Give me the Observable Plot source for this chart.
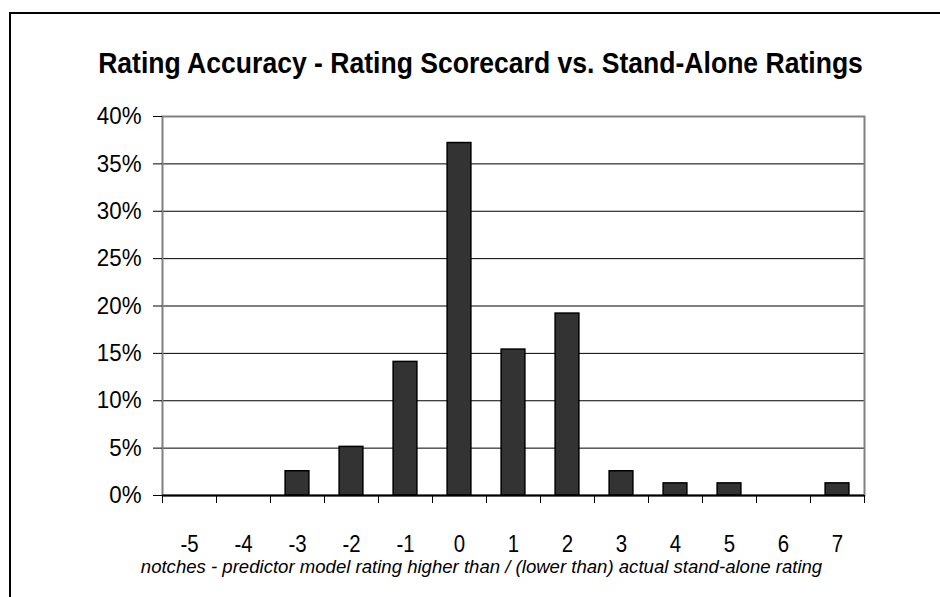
<!DOCTYPE html>
<html>
<head>
<meta charset="utf-8">
<script src="https://cdn.jsdelivr.net/npm/d3@7"></script>
<script src="https://cdn.jsdelivr.net/npm/@observablehq/plot@0.6"></script>
<style>
  html, body { margin: 0; padding: 0; background: #fff; overflow: hidden; width: 940px; height: 597px; }
  #frame { position: absolute; left: 9px; top: 12px; width: 1000px; height: 1000px; border: 2px solid #000; box-sizing: border-box; }
  #chart { position: absolute; left: 0; top: 0; }
</style>
</head>
<body>
<div id="frame"></div>
<div id="chart"></div>
<script>
const titleText = "Rating Accuracy - Rating Scorecard vs. Stand-Alone Ratings";
const captionText = "notches - predictor model rating higher than / (lower than) actual stand-alone rating";
const notches = [-5, -4, -3, -2, -1, 0, 1, 2, 3, 4, 5, 6, 7];
const shares = [0, 0, 2.56, 5.13, 14.1, 37.2, 15.4, 19.2, 2.56, 1.28, 1.28, 0, 1.28];
const yTicks = [0, 5, 10, 15, 20, 25, 30, 35, 40];

const data = notches.map((n, i) => ({notch: n, share: shares[i]}));
const boundaries = notches.map(n => n - 0.5).concat([notches[notches.length - 1] + 0.5]);
const halfBar = 0.22;
const font = "'Liberation Sans', Arial, sans-serif";

const chart = Plot.plot({
  width: 940,
  height: 597,
  marginLeft: 162,
  marginRight: 76,
  marginTop: 116,
  marginBottom: 102,
  style: {fontFamily: font, background: "transparent", color: "#000"},
  x: {domain: [notches[0] - 0.5, notches[notches.length - 1] + 0.5], axis: null, label: null},
  y: {domain: [0, 40], axis: null, label: null},
  marks: [
    Plot.ruleY(yTicks.filter(t => t > 0 && t < 40), {stroke: "#000", strokeWidth: 1}),
    Plot.frame({stroke: "#808080", strokeWidth: 2}),
    Plot.rectY(data.filter(d => d.share > 0), {
      x1: d => d.notch - halfBar,
      x2: d => d.notch + halfBar,
      y1: 0,
      y2: "share",
      fill: "#333333",
      stroke: "#000",
      strokeWidth: 1.5
    }),
    Plot.ruleY([0], {stroke: "#000", strokeWidth: 2}),
    Plot.axisY({ticks: yTicks, tickSize: 9, tickPadding: 12, tickFormat: d => d + "%", fontSize: 24, label: null, stroke: "#000", ariaLabel: "ylabels"}),
    Plot.axisX({ticks: boundaries, tickSize: 8, tickFormat: () => "", label: null, stroke: "#000", ariaLabel: "xticks"}),
    Plot.axisX({ticks: notches, tickSize: 0, tickPadding: 39, tickFormat: d => String(d), fontSize: 24, label: null, ariaLabel: "xlabels"}),
    Plot.text([titleText], {frameAnchor: "top", dx: -33, dy: -53, lineAnchor: "middle", fontSize: 29, fontWeight: "bold", fill: "#000"}),
    Plot.text([captionText], {frameAnchor: "bottom", dx: -32, dy: 72, lineAnchor: "middle", fontSize: 18, fontStyle: "italic", fill: "#000"})
  ]
});
document.getElementById("chart").appendChild(chart);

// Emulate the narrow typeface of the original by condensing glyphs horizontally around their anchor.
function condense(t, f) {
  const tr = t.getAttribute("transform") || "";
  t.setAttribute("transform", (tr + ` scale(${f},1)`).trim());
}
function condenseTo(t, width) {
  const w = t.getBBox().width;
  if (w > 0) condense(t, width / w);
}
chart.querySelectorAll("text").forEach(t => {
  const g = t.closest("g[aria-label]");
  const label = g ? g.getAttribute("aria-label") : "";
  const content = t.textContent;
  if (content === titleText) condenseTo(t, 765);
  else if (content === captionText) condenseTo(t, 682);
  else if (label.startsWith("ylabels")) condense(t, 0.93);
  else if (label.startsWith("xlabels")) condense(t, 0.85);
});
</script>
</body>
</html>
